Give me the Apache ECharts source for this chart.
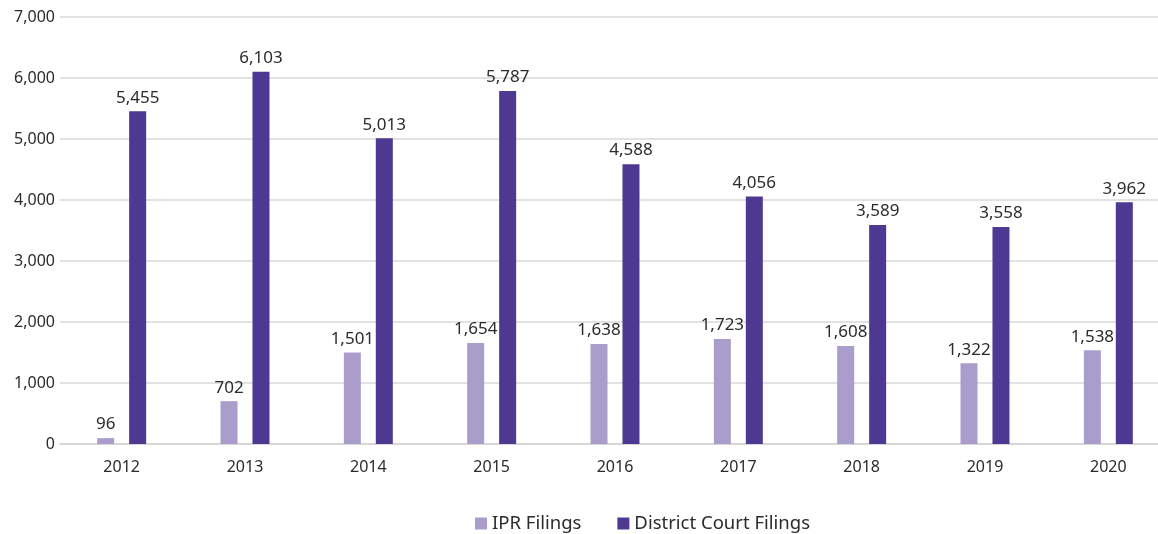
<!DOCTYPE html>
<html>
<head>
<meta charset="utf-8">
<script src="https://cdn.jsdelivr.net/npm/echarts@6/dist/echarts.min.js"></script>
<style>
  html, body { margin: 0; padding: 0; background: #fff; }
  #chart { width: 1158px; height: 534px; }
</style>
</head>
<body>
<div id="chart"></div>
<script>
// data
const years = ['2012', '2013', '2014', '2015', '2016', '2017', '2018', '2019', '2020'];
const iprFilings = [96, 702, 1501, 1654, 1638, 1723, 1608, 1322, 1538];
const districtFilings = [5455, 6103, 5013, 5787, 4588, 4056, 3589, 3558, 3962];

const font = '"Noto Sans", "Open Sans", sans-serif';
const textColor = '#2b2b2b';

const chart = echarts.init(document.getElementById('chart'));

const labelStyle = {
  show: true,
  position: 'top',
  distance: 5,
  color: textColor,
  fontFamily: font,
  fontSize: 17,
  formatter: p => p.value.toLocaleString('en-US')
};

chart.setOption({
  animation: false,
  textStyle: { fontFamily: font },
  grid: { left: 60, width: 1110, top: 17, bottom: 90, outerBoundsMode: 'none', containLabel: false },
  legend: {
    top: 509,
    left: 470,
    itemWidth: 12,
    itemHeight: 12,
    itemGap: 36,
    icon: 'rect',
    textStyle: { color: textColor, fontFamily: font, fontSize: 18.5 },
    data: ['IPR Filings', 'District Court Filings']
  },
  xAxis: {
    type: 'category',
    data: years,
    axisTick: { show: false },
    axisLine: { lineStyle: { color: '#d6d6d6', width: 2 } },
    axisLabel: { color: textColor, fontSize: 16, fontFamily: font, margin: 15 }
  },
  yAxis: {
    type: 'value',
    min: 0,
    max: 7000,
    interval: 1000,
    axisLabel: {
      color: textColor, fontSize: 16, fontFamily: font, margin: 5,
      formatter: v => v.toLocaleString('en-US')
    },
    splitLine: { lineStyle: { color: '#d9d9d9', width: 1.5 } }
  },
  series: [
    {
      name: 'IPR Filings',
      type: 'bar',
      data: iprFilings,
      barWidth: 17,
      barGap: '88%',
      itemStyle: { color: '#a99dcc' },
      label: labelStyle
    },
    {
      name: 'District Court Filings',
      type: 'bar',
      data: districtFilings,
      barWidth: 17,
      itemStyle: { color: '#4e3992' },
      label: labelStyle
    }
  ]
});
</script>
</body>
</html>
